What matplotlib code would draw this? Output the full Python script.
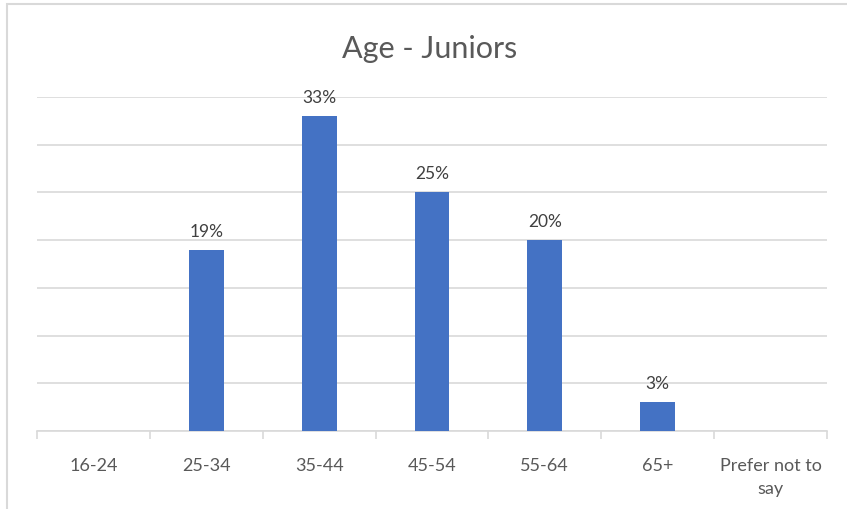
import matplotlib.pyplot as plt
import numpy as np
from matplotlib.patches import Rectangle

plt.rcParams["font.family"] = ["Lato", "DejaVu Sans"]

categories = ["16-24", "25-34", "35-44", "45-54", "55-64", "65+", "Prefer not to\nsay"]
values = [0, 19, 33, 25, 20, 3, 0]
labels = ["", "19%", "33%", "25%", "20%", "3%", ""]

BAR = "#4472c4"
GRID = "#d9d9d9"
TEXT = "#595959"

fig = plt.figure(figsize=(8.47, 5.10), dpi=100, facecolor="white")
ax = fig.add_axes([37 / 847, 1 - 432 / 510, 790 / 847, 334 / 510])

# chart border (cropped at right/bottom)
fig.patches.append(Rectangle((7 / 847, -0.1), 1.2, 1 - 5 / 510 + 0.1,
                             transform=fig.transFigure, fill=False,
                             edgecolor=GRID, linewidth=1.5))

x = np.arange(len(categories))
bars = ax.bar(x, values, 0.31, color=BAR, edgecolor="none", zorder=3)
for bar, lab in zip(bars, labels):
    if lab:
        ax.annotate(lab, xy=(bar.get_x() + bar.get_width() / 2, bar.get_height()),
                    xytext=(0, 8), textcoords="offset points",
                    ha="center", va="bottom", fontsize=12.5, color="#404040")

ax.set_xlim(-0.5, len(categories) - 0.5)
ax.set_ylim(0, 35)
ax.set_yticks(np.arange(0, 36, 5))
ax.set_yticklabels([])
ax.tick_params(axis="y", length=0)
ax.yaxis.grid(True, color=GRID, linewidth=1.2)
ax.set_axisbelow(True)

ax.set_xticks(x)
ax.set_xticklabels(categories, fontsize=13, color=TEXT, linespacing=1.5)
ax.set_xticks(np.arange(-0.5, len(categories), 1), minor=True)
ax.tick_params(axis="x", which="major", length=0, pad=19)
ax.tick_params(axis="x", which="minor", length=6, color=GRID, width=1.2)

for side in ["top", "right", "left"]:
    ax.spines[side].set_visible(False)
ax.spines["bottom"].set_color(GRID)
ax.spines["bottom"].set_linewidth(1.2)

fig.text(430 / 847, 1 - 49 / 510, "Age - Juniors", ha="center", va="center",
         fontsize=22, color=TEXT)

fig.savefig("out.png", dpi=100, facecolor="white")
